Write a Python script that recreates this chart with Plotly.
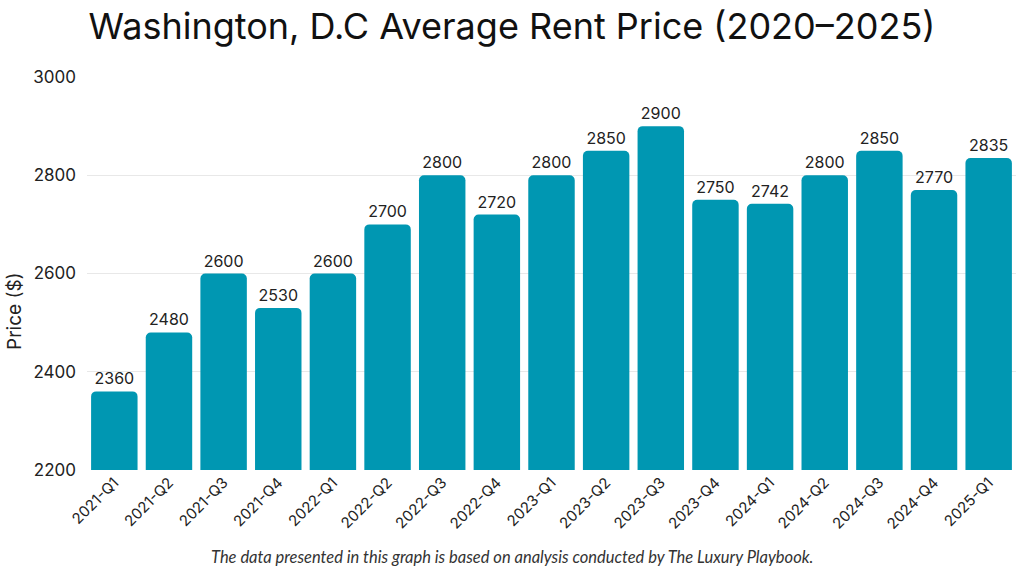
import plotly.graph_objects as go

quarters = ["2021-Q1", "2021-Q2", "2021-Q3", "2021-Q4", "2022-Q1", "2022-Q2", "2022-Q3", "2022-Q4",
            "2023-Q1", "2023-Q2", "2023-Q3", "2023-Q4", "2024-Q1", "2024-Q2", "2024-Q3", "2024-Q4", "2025-Q1"]
prices = [2360, 2480, 2600, 2530, 2600, 2700, 2800, 2720, 2800, 2850, 2900, 2750, 2742, 2800, 2850, 2770, 2835]
y_ticks = [2200, 2400, 2600, 2800, 3000]

W, H = 1024, 576
ML, MR, MT, MB = 87, 8, 77, 106
pw = W - ML - MR
ph = H - MT - MB


def px(x):
    return (x - ML) / pw


def py(y):
    return (H - MB - y) / ph


fig = go.Figure(go.Bar(
    x=quarters, y=prices,
    marker=dict(color="#0097B2", line=dict(width=0)),
    text=[str(p) for p in prices], textposition="outside",
    textfont=dict(family="Inter", size=16, color="#222222"),
    cliponaxis=False,
))

fig.update_layout(
    width=W, height=H,
    margin=dict(l=ML, r=MR, t=MT, b=MB, autoexpand=False),
    paper_bgcolor="white", plot_bgcolor="white",
    bargap=0.15,
    barcornerradius=5,
    showlegend=False,
    title=dict(text="Washington, D.C Average Rent Price (2020–2025)", x=0.5, xanchor="center",
               y=1 - 26 / H, yanchor="middle",
               font=dict(family="Inter", size=36, color="#111111")),
    xaxis=dict(tickangle=-45, tickfont=dict(family="Inter", size=15, color="#222222"),
               showgrid=False, showline=False, ticks="", range=[-0.5, 16.5], automargin=False),
    yaxis=dict(range=[2200, 3000], tickvals=y_ticks, showgrid=True, gridcolor="#e8e8e8",
               zeroline=False, showline=False, ticks="", automargin=False,
               tickfont=dict(family="Inter", size=17, color="#222222"), ticklabelstandoff=10),
    annotations=[
        dict(text="Price ($)", x=px(14), y=py(311), xref="paper", yref="paper", showarrow=False,
             textangle=-90, font=dict(family="Inter", size=19, color="#222222"),
             xanchor="center", yanchor="middle"),
        dict(text="<i>The data presented in this graph is based on analysis conducted by The Luxury Playbook.</i>",
             x=px(512), y=py(557), xref="paper", yref="paper", showarrow=False,
             font=dict(family="Lato", size=16.5, color="#333333"),
             xanchor="center", yanchor="middle"),
    ],
)

fig.write_html("out.html", config={"displayModeBar": False},
               post_script="document.body.style.margin='0';")
